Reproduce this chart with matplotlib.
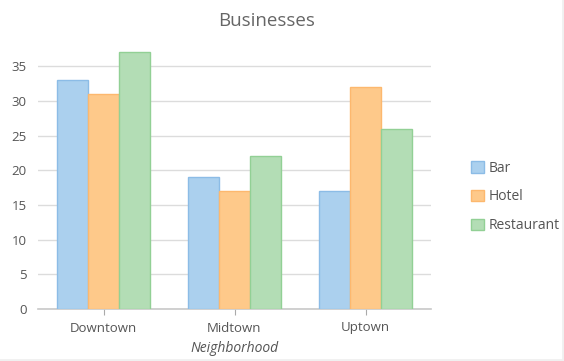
import matplotlib
matplotlib.use("Agg")
import matplotlib.pyplot as plt
import numpy as np

categories = ["Downtown", "Midtown", "Uptown"]
series_names = ["Bar", "Hotel", "Restaurant"]
bar_vals = [33, 19, 17]
hotel_vals = [31, 17, 32]
restaurant_vals = [37, 22, 26]
yticks = [0, 5, 10, 15, 20, 25, 30, 35]

fills = ["#abd0ee", "#fec98a", "#b3ddb5"]
edges = ["#8cbce6", "#fdb86e", "#92d095"]

plt.rcParams['font.family'] = ['Open Sans', 'DejaVu Sans']

W, H = 564, 361
fig = plt.figure(figsize=(W / 100, H / 100), dpi=100)
ax = fig.add_axes([38 / W, 1 - 309 / H, (431 - 38) / W, (309 - 49) / H])

x = np.arange(len(categories))
bw = 0.235
data = [bar_vals, hotel_vals, restaurant_vals]
for i, (vals, name) in enumerate(zip(data, series_names)):
    ax.bar(x + (i - 1) * bw, vals, width=bw, color=fills[i], edgecolor=edges[i],
           linewidth=1.0, label=name, zorder=3)

ax.set_xlim(-0.5, 2.5)
ax.set_ylim(0, 37.5)
ax.set_yticks(yticks)
ax.set_xticks(x)
ax.set_xticklabels(categories)
ax.yaxis.grid(True, color="#dcdcdc", linewidth=1.0, zorder=0)
ax.set_axisbelow(True)
for s in ["top", "right", "left"]:
    ax.spines[s].set_visible(False)
ax.spines["bottom"].set_color("#c8c8c8")
ax.spines["bottom"].set_linewidth(1.2)
ax.tick_params(axis="y", length=0, pad=8, labelsize=9.5, labelcolor="#555555")
ax.tick_params(axis="x", length=4, color="#aaaaaa", pad=5, labelsize=9.5, labelcolor="#555555")
ax.set_xlabel("Neighborhood", fontsize=10, style="italic", color="#555555", labelpad=5)

fig.text(267 / W, 1 - 21 / H, "Businesses", ha="center", va="center", fontsize=13.5, color="#666666")

leg = ax.legend(loc="center left", bbox_to_anchor=(1.088, (309 - 197) / 260), frameon=False,
                fontsize=10, handlelength=0.9, handleheight=0.9, labelspacing=1.0,
                handletextpad=0.35, labelcolor="#555555", borderaxespad=0)

# faint frame at right / bottom edges
fig.add_artist(plt.Line2D([1 - 1.5 / W, 1 - 1.5 / W], [0, 1], transform=fig.transFigure,
                          color="#f0f0f0", linewidth=2))
fig.add_artist(plt.Line2D([0, 1], [1.5 / H, 1.5 / H], transform=fig.transFigure,
                          color="#f0f0f0", linewidth=2))

fig.savefig("out.png", dpi=100)
